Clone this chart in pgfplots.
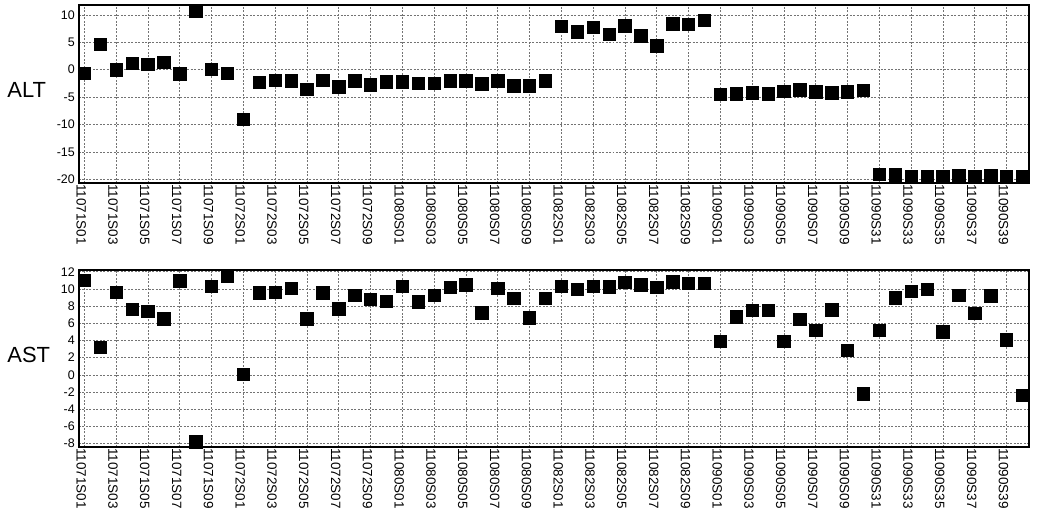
\documentclass[border=0pt]{standalone}
\usepackage{pgfplots}
\pgfplotsset{compat=1.18}
\usepackage{fontspec}
\setmainfont{Liberation Sans}
\pgfplotsset{
  panel/.style={
    scale only axis,
    width=950bp,
    height=178bp,
    anchor=south west,
    xmin=-0.33, xmax=59.42,
    xtick={0,2,...,58},
    xticklabels={11071S01,11071S03,11071S05,11071S07,11071S09,11072S01,11072S03,11072S05,11072S07,11072S09,11080S01,11080S03,11080S05,11080S07,11080S09,11082S01,11082S03,11082S05,11082S07,11082S09,11090S01,11090S03,11090S05,11090S07,11090S09,11090S31,11090S33,11090S35,11090S37,11090S39},
    xticklabel style={rotate=-90, anchor=west, font=\fontsize{13.5}{13.5}\selectfont, inner sep=1pt, yshift=-3bp},
    yticklabel style={font=\fontsize{12.5}{12.5}\selectfont, inner sep=1pt, xshift=-3bp},
    /pgf/number format/assume math mode=true,
    major tick length=0pt,
    xtick pos=bottom, ytick pos=left,
    tick align=outside,
    grid=major,
    grid style={dash pattern=on 2pt off 1.5pt, black!55, line width=0.5pt},
    axis line style={line width=1.3pt, black},
    every axis y label/.style={at={(axis description cs:-0.0755,0.52)}, anchor=west, inner sep=0pt, font=\fontsize{22}{22}\selectfont},
  },
  pts/.style={only marks, mark=square*, mark size=6.2bp, black, mark options={fill=black}},
}
\begin{document}
\begin{tikzpicture}
\useasboundingbox (0,0) rectangle (1041bp,-525bp);
\begin{axis}[panel, at={(79bp,-183bp)}, ymin=-20.7, ymax=11.8, ytick={-20,-15,...,10}, ylabel={ALT}]
\addplot[pts] coordinates {
(0,-0.7) (1,4.6) (2,0) (3,1.2) (4,1.0) (5,1.35) (6,-0.75) (7,10.7) (8,0.1) (9,-0.7)
(10,-9.1) (11,-2.3) (12,-1.9) (13,-2.0) (14,-3.6) (15,-1.9) (16,-3.1) (17,-2.0) (18,-2.75) (19,-2.2)
(20,-2.2) (21,-2.5) (22,-2.5) (23,-2.0) (24,-2.0) (25,-2.6) (26,-2.0) (27,-2.9) (28,-2.9) (29,-2.0)
(30,7.9) (31,6.95) (32,7.8) (33,6.5) (34,8.0) (35,6.2) (36,4.4) (37,8.4) (38,8.3) (39,9.0)
(40,-4.5) (41,-4.4) (42,-4.2) (43,-4.4) (44,-3.9) (45,-3.7) (46,-4.0) (47,-4.2) (48,-4.0) (49,-3.8)
(50,-19.1) (51,-19.2) (52,-19.5) (53,-19.5) (54,-19.5) (55,-19.3) (56,-19.5) (57,-19.3) (58,-19.5) (59,-19.5)
};
\end{axis}
\begin{axis}[panel, at={(79bp,-447bp)}, height=177bp, ymin=-8.4, ymax=12.2, ytick={-8,-6,...,12}, ylabel={AST}]
\addplot[pts] coordinates {
(0,11.03) (1,3.2) (2,9.6) (3,7.65) (4,7.4) (5,6.55) (6,10.95) (7,-7.8) (8,10.3) (9,11.5)
(10,0.05) (11,9.55) (12,9.65) (13,10.05) (14,6.55) (15,9.55) (16,7.7) (17,9.3) (18,8.8) (19,8.6)
(20,10.35) (21,8.5) (22,9.3) (23,10.2) (24,10.5) (25,7.25) (26,10.1) (27,8.95) (28,6.65) (29,8.95)
(30,10.3) (31,9.95) (32,10.35) (33,10.25) (34,10.75) (35,10.5) (36,10.2) (37,10.85) (38,10.65) (39,10.65)
(40,3.9) (41,6.75) (42,7.55) (43,7.55) (44,3.9) (45,6.5) (46,5.2) (47,7.6) (48,2.85) (49,-2.2)
(50,5.2) (51,9.0) (52,9.75) (53,9.95) (54,5.0) (55,9.3) (56,7.2) (57,9.2) (58,4.1) (59,-2.4)
};
\end{axis}
\end{tikzpicture}
\end{document}
